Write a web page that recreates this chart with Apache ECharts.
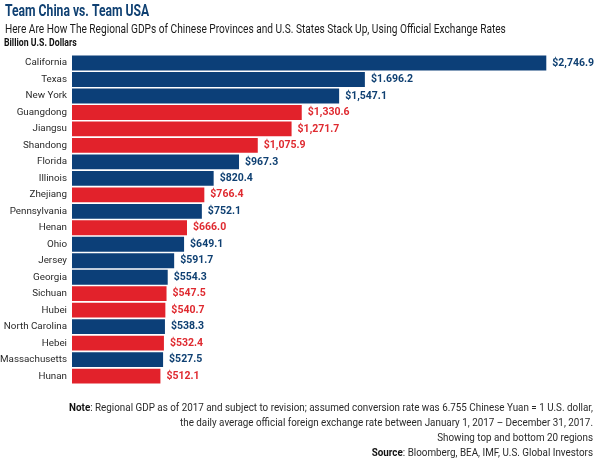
<!DOCTYPE html>
<html>
<head>
<meta charset="utf-8">
<script src="https://cdn.jsdelivr.net/npm/echarts@6/dist/echarts.min.js"></script>
<style>
html,body{margin:0;padding:0;background:#fff;}
#c{width:600px;height:458px;}
</style>
</head>
<body>
<div id="c"></div>
<script>
var regions = ['California','Texas','New York','Guangdong','Jiangsu','Shandong','Florida','Illinois','Zhejiang','Pennsylvania','Henan','Ohio','Jersey','Georgia','Sichuan','Hubei','North Carolina','Hebei','Massachusetts','Hunan'];
var gdp = [2746.9,1696.2,1547.1,1330.6,1271.7,1075.9,967.3,820.4,766.4,752.1,666.0,649.1,591.7,554.3,547.5,540.7,538.3,532.4,527.5,512.1];
var team = ['US','US','US','CN','CN','CN','US','US','CN','US','CN','US','US','US','CN','CN','US','CN','US','CN'];
var valueLabels = ['$2,746.9','$1.696.2','$1,547.1','$1,330.6','$1,271.7','$1,075.9','$967.3','$820.4','$766.4','$752.1','$666.0','$649.1','$591.7','$554.3','$547.5','$540.7','$538.3','$532.4','$527.5','$512.1'];

var NAVY = '#0c3f78', RED = '#e2222b';
var NAVY_T = '#0f4072', RED_T = '#df2a30';
var FONT = 'Roboto, sans-serif';

var data = gdp.map(function(v, i){
  var us = team[i] === 'US';
  return {
    value: v,
    itemStyle: {color: us ? NAVY : RED},
    label: {color: us ? NAVY_T : RED_T, formatter: valueLabels[i]}
  };
});

function txt(x, y, text, font, fill, align, sx, rich){
  var st = {text: text, font: font, fill: fill, align: align, verticalAlign: 'middle'};
  if (rich) st.rich = rich;
  return {type: 'text', x: x, y: y, scaleX: sx, style: st};
}
var noteFont = '11px ' + FONT;
var bRich = {b: {fontWeight: 'bold', fontSize: 11, fontFamily: FONT, fill: '#111'}};

var chart = echarts.init(document.getElementById('c'), null, {renderer:'canvas'});
chart.setOption({
  animation: false,
  grid: {left: 72, top: 54.8, height: 329.5, right: 10, containLabel: false, outerBoundsMode: 'none'},
  xAxis: {type: 'value', min: 0, max: 3000, show: false},
  yAxis: {
    type: 'category', data: regions, inverse: true,
    axisLine: {show: false}, axisTick: {show: false},
    axisLabel: {margin: 5, color: '#2a2a2a', fontSize: 9.8, fontFamily: FONT}
  },
  series: [{
    type: 'bar', data: data, barCategoryGap: '10%',
    label: {show: true, position: 'right', distance: 6, fontSize: 10.5, fontWeight: 'bold', fontFamily: FONT}
  }],
  graphic: [
    txt(5, 11.5, 'Team China vs. Team USA', 'bold 16px ' + FONT, '#0f4072', 'left', 0.76),
    txt(5, 30, 'Here Are How The Regional GDPs of Chinese Provinces and U.S. States Stack Up, Using Official Exchange Rates', '13px ' + FONT, '#1a1a1a', 'left', 0.78),
    txt(4, 43.5, 'Billion U.S. Dollars', 'bold 10.5px ' + FONT, '#111', 'left', 0.83),
    txt(593, 408, '{b|Note}: Regional GDP as of 2017 and subject to revision; assumed conversion rate was 6.755 Chinese Yuan = 1 U.S. dollar,', noteFont, '#2a2a2a', 'right', 0.895, bRich),
    txt(593, 423.3, 'the daily average official foreign exchange rate between January 1, 2017 \u2013 December 31, 2017.', noteFont, '#2a2a2a', 'right', 0.895),
    txt(593, 438.3, 'Showing top and bottom 20 regions', noteFont, '#2a2a2a', 'right', 0.895),
    txt(593, 453, '{b|Source}: Bloomberg, BEA, IMF, U.S. Global Investors', noteFont, '#2a2a2a', 'right', 0.895, bRich)
  ]
});
</script>
</body>
</html>
